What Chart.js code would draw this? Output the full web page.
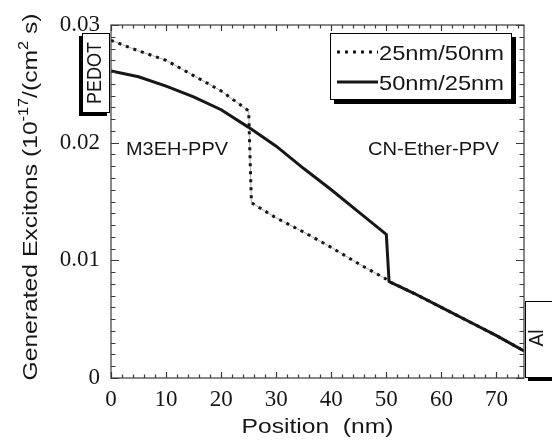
<!DOCTYPE html>
<html>
<head>
<meta charset="utf-8">
<style>
  html, body { margin: 0; padding: 0; background: #fff; }
  #wrap { width: 552px; height: 440px; }
</style>
<script src="https://cdn.jsdelivr.net/npm/chart.js@4/dist/chart.umd.min.js"></script>
</head>
<body>
<div id="wrap"><canvas id="c" width="552" height="440"></canvas></div>
<script>
// Exciton generation profile across the PEDOT / polymer bilayer / Al stack

// 25 nm M3EH-PPV on 50 nm CN-Ether-PPV
const positions25_50 = [0, 5, 10, 15, 20, 25, 25.5, 30, 35, 40, 45, 50, 50.5, 55, 60, 65, 70, 75];
const excitons25_50  = [0.0287, 0.0278, 0.0270, 0.0257, 0.0244, 0.0227, 0.0149, 0.0136, 0.0124, 0.0111, 0.0097, 0.0084, 0.0082, 0.0072, 0.0060, 0.0048, 0.0036, 0.0023];

// 50 nm M3EH-PPV on 25 nm CN-Ether-PPV
const positions50_25 = [0, 5, 10, 15, 20, 25, 30, 35, 40, 45, 50, 50.5, 55, 60, 65, 70, 75];
const excitons50_25  = [0.0261, 0.0256, 0.0248, 0.0239, 0.0228, 0.0213, 0.0197, 0.0178, 0.0160, 0.0141, 0.0122, 0.0082, 0.0072, 0.0060, 0.0048, 0.0036, 0.0023];

const xTickValues = [0, 10, 20, 30, 40, 50, 60, 70];
const yTickValues = [0, 0.01, 0.02, 0.03];
const seriesNames = ['25nm/50nm', '50nm/25nm'];
const layerNames = ['M3EH-PPV', 'CN-Ether-PPV'];
const electrodeNames = ['PEDOT', 'Al'];
const xTitle = 'Position  (nm)';
const yTitleParts = [
  { t: 'Generated Excitons (10' }, { t: '-17', sup: true },
  { t: '/(cm' }, { t: '2', sup: true }, { t: ' s)' }
];

const SANS = '"Liberation Sans", Arial, Helvetica, sans-serif';
const SERIF = '"Liberation Serif", "Times New Roman", serif';
const INK = '#161616';

function pairs(xs, ys) { return xs.map((x, i) => ({ x: x, y: ys[i] })); }

// draw a run of text stretched horizontally to a given width
function fitText(ctx, text, x, y, size, width, align) {
  ctx.save();
  ctx.font = size + 'px ' + SANS;
  const k = width / ctx.measureText(text).width;
  ctx.translate(x, y);
  ctx.scale(k, 1);
  ctx.textAlign = align || 'left';
  ctx.textBaseline = 'alphabetic';
  ctx.fillStyle = INK;
  ctx.fillText(text, 0, 0);
  ctx.restore();
}

// text with superscripts, centred on x, baseline y
function richText(ctx, parts, x, y, size, width) {
  ctx.save();
  const supSize = size * 0.66;
  const widths = parts.map(p => {
    ctx.font = (p.sup ? supSize : size) + 'px ' + SANS;
    return ctx.measureText(p.t).width;
  });
  const total = widths.reduce((a, b) => a + b, 0);
  ctx.translate(x - width / 2, y);
  ctx.scale(width / total, 1);
  ctx.textBaseline = 'alphabetic';
  ctx.textAlign = 'left';
  ctx.fillStyle = INK;
  let cx = 0;
  parts.forEach((p, i) => {
    ctx.font = (p.sup ? supSize : size) + 'px ' + SANS;
    ctx.fillText(p.t, cx, p.sup ? -size * 0.42 : 0);
    cx += widths[i];
  });
  ctx.restore();
}

function shadowBox(ctx, x, y, w, h, dx, dy) {
  ctx.save();
  ctx.fillStyle = '#000';
  ctx.fillRect(x + dx, y + dy, w, h);
  ctx.fillStyle = '#fff';
  ctx.fillRect(x, y, w, h);
  ctx.strokeStyle = '#000';
  ctx.lineWidth = 1;
  ctx.strokeRect(x + 0.5, y + 0.5, w - 1, h - 1);
  ctx.restore();
}

const frameAndNotes = {
  id: 'frameAndNotes',
  afterDraw(chart) {
    const ctx = chart.ctx;
    const a = chart.chartArea;
    const xs = chart.scales.x, ys = chart.scales.y;

    // frame
    ctx.save();
    ctx.strokeStyle = '#3a3a3a';
    ctx.lineWidth = 1.2;
    ctx.strokeRect(a.left, a.top, a.right - a.left, a.bottom - a.top);

    // inward ticks on all four sides
    ctx.beginPath();
    for (let v = 0; v <= 75; v += 2) {
      const px = Math.round(xs.getPixelForValue(v)) + 0.5;
      const len = (v % 10 === 0) ? 6 : 3.5;
      ctx.moveTo(px, a.bottom); ctx.lineTo(px, a.bottom - len);
      ctx.moveTo(px, a.top); ctx.lineTo(px, a.top + len);
    }
    for (let i = 0; i <= 30; i++) {
      const py = Math.round(ys.getPixelForValue(i * 0.001)) + 0.5;
      const len = (i % 10 === 0) ? 8 : 4.5;
      ctx.moveTo(a.left, py); ctx.lineTo(a.left + len, py);
      ctx.moveTo(a.right, py); ctx.lineTo(a.right - len, py);
    }
    ctx.stroke();
    ctx.restore();

    // layer labels
    fitText(ctx, layerNames[0], 126, 155, 19, 102);
    fitText(ctx, layerNames[1], 368, 155, 19, 131);

    // legend
    shadowBox(ctx, 330, 33, 182, 67, 4, 4);
    ctx.save();
    ctx.strokeStyle = INK;
    ctx.lineWidth = 3;
    ctx.setLineDash([3, 5]);
    ctx.beginPath(); ctx.moveTo(337, 52); ctx.lineTo(378, 52); ctx.stroke();
    ctx.setLineDash([]);
    ctx.beginPath(); ctx.moveTo(337, 82); ctx.lineTo(378, 82); ctx.stroke();
    ctx.restore();
    fitText(ctx, seriesNames[0], 379, 60, 21, 125);
    fitText(ctx, seriesNames[1], 379, 90, 21, 125);

    // electrode tags
    shadowBox(ctx, 82, 33, 28, 80, -3, 3);
    ctx.save();
    ctx.translate(101, 73);
    ctx.rotate(-Math.PI / 2);
    fitText(ctx, electrodeNames[0], 0, 0, 20, 62, 'center');
    ctx.restore();

    shadowBox(ctx, 525, 301, 30, 77, 3, 3);
    ctx.save();
    ctx.translate(543, 338);
    ctx.rotate(-Math.PI / 2);
    fitText(ctx, electrodeNames[1], 0, 0, 21, 17, 'center');
    ctx.restore();

    // axis titles
    fitText(ctx, xTitle, (a.left + a.right) / 2, 433, 21, 152, 'center');
    ctx.save();
    ctx.translate(37, 197);
    ctx.rotate(-Math.PI / 2);
    richText(ctx, yTitleParts, 0, 0, 21, 367);
    ctx.restore();
  }
};

new Chart(document.getElementById('c'), {
  type: 'line',
  data: {
    datasets: [
      {
        label: seriesNames[1],
        data: pairs(positions50_25, excitons50_25),
        borderColor: INK, borderWidth: 3, pointRadius: 0, tension: 0,
        order: 1
      },
      {
        label: seriesNames[0],
        data: pairs(positions25_50, excitons25_50),
        borderColor: INK, borderWidth: 3, borderDash: [3, 5], borderCapStyle: 'butt',
        pointRadius: 0, tension: 0,
        order: 2
      },
      {
        label: seriesNames[0] + ' trace',
        data: pairs(positions25_50, excitons25_50),
        borderColor: '#8c8c8c', borderWidth: 0.7, pointRadius: 0, tension: 0,
        order: 3
      }
    ]
  },
  options: {
    responsive: false,
    animation: false,
    devicePixelRatio: 1,
    layout: { padding: { top: 25, right: 28, left: 0, bottom: 0 } },
    plugins: { legend: { display: false }, tooltip: { enabled: false } },
    scales: {
      x: {
        type: 'linear', min: 0, max: 75,
        grid: { display: false, drawTicks: false },
        border: { display: false },
        afterBuildTicks: s => { s.ticks = xTickValues.map(v => ({ value: v })); },
        afterFit: s => { s.height = 62; },
        ticks: {
          font: { family: SERIF, size: 23 }, color: INK, padding: 8,
          maxRotation: 0, autoSkip: false,
          callback: v => String(v)
        }
      },
      y: {
        type: 'linear', min: 0, max: 0.03,
        grid: { display: false, drawTicks: false },
        border: { display: false },
        afterBuildTicks: s => { s.ticks = yTickValues.map(v => ({ value: v })); },
        afterFit: s => { s.width = 111; },
        ticks: {
          font: { family: SERIF, size: 23 }, color: INK, padding: 11,
          autoSkip: false,
          callback: v => (v === 0 ? '0' : v.toFixed(2))
        }
      }
    }
  },
  plugins: [frameAndNotes]
});
</script>
</body>
</html>
